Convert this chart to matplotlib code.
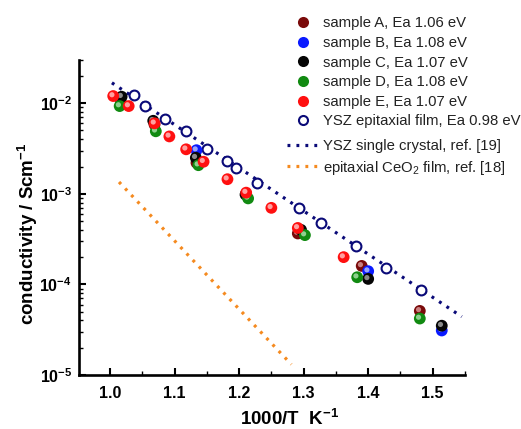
import matplotlib
matplotlib.use("Agg")
import matplotlib.pyplot as plt
from matplotlib.transforms import ScaledTranslation
from matplotlib.lines import Line2D
from matplotlib.ticker import LogLocator, MultipleLocator, FixedLocator
import numpy as np

plt.rcParams['font.family'] = ['Liberation Sans', 'DejaVu Sans']
plt.rcParams['mathtext.fontset'] = 'custom'
plt.rcParams['mathtext.rm'] = 'Liberation Sans'
plt.rcParams['mathtext.bf'] = 'Liberation Sans:bold'
plt.rcParams['mathtext.it'] = 'Liberation Sans:italic'

# ---- data ----
xA = [1.017, 1.069, 1.134, 1.211, 1.291, 1.390, 1.480]
yA = [0.0102, 0.0058, 0.0022, 0.0010, 0.000365, 0.00016, 5.1e-5]

xB = [1.134, 1.400, 1.514]
yB = [0.00303, 0.00014, 3.1e-5]

xC = [1.018, 1.067, 1.133, 1.210, 1.296, 1.400, 1.514]
yC = [0.0118, 0.0064, 0.0025, 0.00098, 0.0004, 0.000115, 3.5e-5]

xD = [1.015, 1.071, 1.137, 1.214, 1.302, 1.383, 1.480]
yD = [0.0093, 0.0049, 0.00207, 0.00089, 0.00035, 0.00012, 4.2e-5]

xE = [1.005, 1.029, 1.069, 1.092, 1.118, 1.145, 1.182, 1.211, 1.250, 1.291, 1.362]
yE = [0.012, 0.0093, 0.006, 0.0043, 0.0031, 0.00226, 0.00145, 0.00103, 0.0007, 0.00042, 0.0002]

x_film = [1.037, 1.055, 1.085, 1.118, 1.151, 1.181, 1.196, 1.228, 1.293, 1.327, 1.381, 1.427, 1.482]
y_film = [0.01225, 0.0094, 0.00667, 0.0049, 0.00311, 0.0023, 0.00194, 0.00132, 0.0007, 0.00048, 0.000265, 0.000152, 8.7e-5]

x_cryst = [1.003, 1.545]
y_cryst = [0.0168, 4.4e-5]

x_ceo2 = [1.014, 1.281]
y_ceo2 = [0.00135, 1.31e-5]

labels = ["sample A, Ea 1.06 eV", "sample B, Ea 1.08 eV", "sample C, Ea 1.07 eV",
          "sample D, Ea 1.08 eV", "sample E, Ea 1.07 eV", "YSZ epitaxial film, Ea 0.98 eV",
          "YSZ single crystal, ref. [19]", r"epitaxial CeO$_2$ film, ref. [18]"]

x_ticks = [1.0, 1.1, 1.2, 1.3, 1.4, 1.5]
y_ticks = [1e-5, 1e-4, 1e-3, 1e-2]

# ---- figure ----
fig = plt.figure(figsize=(5.21, 4.29), dpi=100)
ax = fig.add_axes([79/521, 1-375/429, (465-79)/521, (375-60)/429])
ax.set_yscale('log')
ax.set_xlim(0.952, 1.55)
ax.set_ylim(1e-5, 3e-2)

navy = '#0a0a78'
orange = '#f58a1f'

ax.plot(x_cryst, y_cryst, color=navy, lw=2.3, linestyle=(0, (0.9, 1.9)), zorder=2)
ax.plot(x_ceo2, y_ceo2, color=orange, lw=2.3, linestyle=(0, (0.9, 1.9)), zorder=2)

ax.scatter(x_film, y_film, s=50, facecolors='white', edgecolors=navy, linewidths=1.5, zorder=3)

hl = ScaledTranslation(-1.3/100, 1.3/100, fig.dpi_scale_trans)
samples = [(xA, yA, '#7a0a0a', '#c98080'), (xB, yB, '#0a1aff', '#9aa5ff'),
           (xC, yC, '#050505', '#8a8a8a'), (xD, yD, '#118a11', '#8fd08f'),
           (xE, yE, '#ff1010', '#ffa0a0')]
z = 4
for xs, ys, col, light in samples:
    ax.scatter(xs, ys, s=72, color=col, edgecolors='none', zorder=z)
    ax.scatter(xs, ys, s=14, color=light, edgecolors='none', zorder=z + 0.5,
               transform=ax.transData + hl)
    z += 1

for s in ['top', 'right']:
    ax.spines[s].set_visible(False)
for s in ['left', 'bottom']:
    ax.spines[s].set_linewidth(1.9)

ax.xaxis.set_major_locator(FixedLocator(x_ticks))
ax.xaxis.set_minor_locator(MultipleLocator(0.05))
ax.yaxis.set_major_locator(FixedLocator(y_ticks))
ax.yaxis.set_minor_locator(LogLocator(base=10, subs=np.arange(2, 10)))
ax.tick_params(which='major', direction='in', length=5, width=1.5, labelsize=11.5, pad=5)
ax.tick_params(axis='x', which='major', pad=8)
ax.tick_params(which='minor', direction='in', length=3, width=1.0)
ax.tick_params(axis='y', which='minor', labelleft=False)
ax.set_xticklabels([f"{v:.1f}" for v in x_ticks], fontweight='bold')
ax.set_yticklabels([r"$\mathbf{10^{%d}}$" % int(np.log10(v)) for v in y_ticks])

ax.set_xlabel(r"1000/T  K$^{\mathbf{-1}}$", fontsize=13.5, fontweight='bold')
ax.xaxis.set_label_coords(0.545, -0.108)
ax.set_ylabel(r"conductivity / Scm$^{\mathbf{-1}}$", fontsize=13.5, fontweight='bold')
ax.yaxis.set_label_coords(-0.101, 0.45)

# legends
handles1 = [Line2D([], [], ls='none', marker='o', ms=8, mfc=c, mec='none') for _, _, c, _ in samples]
handles1.append(Line2D([], [], ls='none', marker='o', ms=6.5, mfc='white', mec=navy, mew=1.5))
leg1 = fig.legend(handles1, labels[:6], loc='upper left', bbox_to_anchor=(284/521, 1-13.5/429),
                  frameon=False, fontsize=10.7, handlelength=2.1, handletextpad=0.3,
                  labelspacing=0.375, borderpad=0.2, borderaxespad=0)
handles2 = [Line2D([], [], color=navy, lw=2.3, ls=(0, (0.9, 1.9))),
            Line2D([], [], color=orange, lw=2.3, ls=(0, (0.9, 1.9)))]
leg2 = fig.legend(handles2, labels[6:], loc='upper left', bbox_to_anchor=(284/521, 1-136/429),
                  frameon=False, fontsize=10.7, handlelength=2.1, handletextpad=0.3,
                  labelspacing=0.375, borderpad=0.2, borderaxespad=0)
for t in leg1.get_texts() + leg2.get_texts():
    t.set_color('#222222')

fig.savefig("out.png", dpi=100)
